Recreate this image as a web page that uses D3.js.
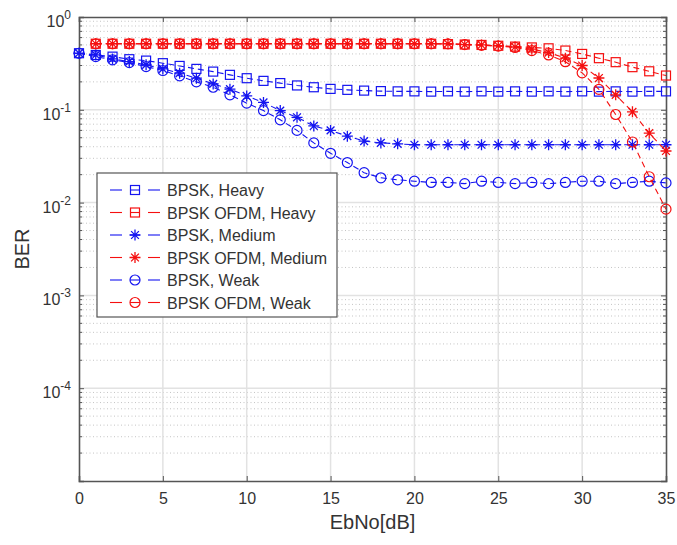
<!DOCTYPE html>
<html>
<head>
<meta charset="utf-8">
<script src="https://cdn.jsdelivr.net/npm/d3@7"></script>
<style>
  body { margin: 0; background: #fff; }
  text { font-family: "Liberation Sans", Arial, Helvetica, sans-serif; fill: #333; }
</style>
</head>
<body>
<div class="chart"></div>
<script>
// EbNo values (dB)
var ebnoBpsk = [0,1,2,3,4,5,6,7,8,9,10,11,12,13,14,15,16,17,18,19,20,21,22,23,24,25,26,27,28,29,30,31,32,33,34,35];
var ebnoOfdm = [1,2,3,4,5,6,7,8,9,10,11,12,13,14,15,16,17,18,19,20,21,22,23,24,25,26,27,28,29,30,31,32,33,34,35];

// BER
var bpskHeavy = [0.407,0.39,0.374,0.351,0.339,0.318,0.297,0.276,0.258,0.238,0.219,0.205,0.194,0.183,0.175,0.168,
  0.164,0.161,0.159,0.158,0.158,0.157,0.158,0.157,0.158,0.157,0.158,0.157,0.158,0.157,0.158,0.157,0.158,0.157,0.158,0.158];
var bpskMedium = [0.407,0.39,0.353,0.331,0.305,0.276,0.248,0.219,0.19,0.167,0.141,0.12,0.098,0.083,0.067,0.06,
  0.052,0.046,0.044,0.043,0.042,0.042,0.042,0.042,0.042,0.042,0.042,0.042,0.042,0.042,0.042,0.042,0.042,0.042,0.042,0.042];
var bpskWeak = [0.407,0.374,0.345,0.323,0.292,0.265,0.232,0.2,0.175,0.145,0.118,0.098,0.078,0.06,0.044,0.034,
  0.027,0.021,0.0185,0.0176,0.017,0.0165,0.0165,0.016,0.017,0.0165,0.016,0.0165,0.016,0.0165,0.017,0.017,0.016,0.0165,0.017,0.0163];
var ofdmHeavy = [0.515,0.515,0.515,0.515,0.515,0.515,0.515,0.515,0.515,0.515,0.515,0.515,0.515,0.515,0.515,0.515,
  0.515,0.515,0.515,0.515,0.515,0.51,0.505,0.5,0.49,0.48,0.47,0.46,0.435,0.4,0.36,0.326,0.288,0.26,0.234];
var ofdmMedium = [0.515,0.515,0.515,0.515,0.515,0.515,0.515,0.515,0.515,0.515,0.515,0.515,0.515,0.515,0.515,0.515,
  0.515,0.515,0.515,0.515,0.515,0.515,0.505,0.5,0.49,0.475,0.45,0.414,0.36,0.3,0.22,0.145,0.095,0.056,0.036];
var ofdmWeak = [0.515,0.515,0.515,0.515,0.515,0.515,0.515,0.515,0.515,0.515,0.515,0.515,0.515,0.515,0.515,0.515,
  0.515,0.515,0.515,0.515,0.515,0.515,0.505,0.495,0.485,0.47,0.434,0.39,0.33,0.25,0.166,0.089,0.045,0.019,0.0085];

var seriesNames = ["BPSK, Heavy", "BPSK OFDM, Heavy", "BPSK, Medium", "BPSK OFDM, Medium", "BPSK, Weak", "BPSK OFDM, Weak"];
var xTicks = [0,5,10,15,20,25,30,35];
var yTicks = [1,0.1,0.01,0.001,0.0001];
var yTickExp = ["0","-1","-2","-3","-4"];

var blue = "#1414f0";
var red = "#f51010";

var series = [
  { name: seriesNames[0], x: ebnoBpsk, y: bpskHeavy,  color: blue, marker: "square" },
  { name: seriesNames[1], x: ebnoOfdm, y: ofdmHeavy,  color: red,  marker: "square" },
  { name: seriesNames[2], x: ebnoBpsk, y: bpskMedium, color: blue, marker: "star" },
  { name: seriesNames[3], x: ebnoOfdm, y: ofdmMedium, color: red,  marker: "star" },
  { name: seriesNames[4], x: ebnoBpsk, y: bpskWeak,   color: blue, marker: "circle" },
  { name: seriesNames[5], x: ebnoOfdm, y: ofdmWeak,   color: red,  marker: "circle" }
];

var svgWidth = 677;
var svgHeight = 545;
var margin = { top: 17, right: 11, bottom: 64, left: 79 };
var width = svgWidth - margin.left - margin.right;
var height = svgHeight - margin.top - margin.bottom;

var svg = d3.select(".chart").append("svg")
  .attr("width", svgWidth)
  .attr("height", svgHeight);

var chart = svg.append("g")
  .attr("transform", `translate(${margin.left}, ${margin.top})`);

var xScale = d3.scaleLinear().domain([0, 35]).range([0, width]);
var yScale = d3.scaleLog().domain([1e-5, 1]).range([height, 0]);

// minor log values 2..9 x 10^k
var minorVals = [];
[-5,-4,-3,-2,-1].forEach(function(k) {
  for (var m = 2; m <= 9; m++) minorVals.push(m * Math.pow(10, k));
});

// grid
chart.append("g").selectAll("line").data(minorVals).enter().append("line")
  .attr("x1", 0).attr("x2", width)
  .attr("y1", function(d) { return yScale(d); }).attr("y2", function(d) { return yScale(d); })
  .attr("stroke", "#c4c4c4").attr("stroke-width", 1).attr("stroke-dasharray", "1,2.5");

chart.append("g").selectAll("line").data(xTicks.slice(1, -1)).enter().append("line")
  .attr("x1", function(d) { return xScale(d); }).attr("x2", function(d) { return xScale(d); })
  .attr("y1", 0).attr("y2", height)
  .attr("stroke", "#e2e2e2").attr("stroke-width", 1.5);

chart.append("g").selectAll("line").data(yTicks.slice(1)).enter().append("line")
  .attr("x1", 0).attr("x2", width)
  .attr("y1", function(d) { return yScale(d); }).attr("y2", function(d) { return yScale(d); })
  .attr("stroke", "#e2e2e2").attr("stroke-width", 1.5);

// axes (ticks inside, box)
var axisColor = "#555";
var bottomAxis = d3.axisBottom(xScale).tickValues(xTicks).tickSize(-5).tickPadding(12).tickFormat(d3.format("d"));
var topAxis = d3.axisTop(xScale).tickValues(xTicks).tickSize(-5).tickFormat("");
var leftAxis = d3.axisLeft(yScale).tickValues(yTicks).tickSize(-5).tickFormat("");
var rightAxis = d3.axisRight(yScale).tickValues(yTicks).tickSize(-5).tickFormat("");

var gx = chart.append("g").attr("transform", `translate(0, ${height})`).call(bottomAxis);
chart.append("g").call(topAxis);
chart.append("g").call(leftAxis);
chart.append("g").attr("transform", `translate(${width}, 0)`).call(rightAxis);

chart.selectAll(".domain").attr("stroke", axisColor).attr("stroke-width", 1.6);
chart.selectAll(".tick line").attr("stroke", axisColor).attr("stroke-width", 1);
gx.selectAll("text").style("font-size", "16px").attr("fill", "#333")
  .style("font-family", "'Liberation Sans', Arial, sans-serif");

// minor ticks on left and right
[0, width].forEach(function(xPos) {
  chart.append("g").selectAll("line").data(minorVals).enter().append("line")
    .attr("x1", xPos).attr("x2", xPos === 0 ? 3 : width - 3)
    .attr("y1", function(d) { return yScale(d); }).attr("y2", function(d) { return yScale(d); })
    .attr("stroke", axisColor).attr("stroke-width", 1);
});

// y tick labels 10^k
yTicks.forEach(function(v, i) {
  var t = chart.append("text")
    .attr("x", -8)
    .attr("y", yScale(v) + 10)
    .attr("text-anchor", "end")
    .style("font-size", "16px");
  t.append("tspan").text("10");
  t.append("tspan").attr("dy", -8).style("font-size", "12px").text(yTickExp[i]);
});

// axis labels
chart.append("text")
  .attr("x", width / 2).attr("y", height + 48)
  .attr("text-anchor", "middle").style("font-size", "20px")
  .text("EbNo[dB]");

chart.append("text")
  .attr("transform", "rotate(-90)")
  .attr("x", -height / 2).attr("y", -50)
  .attr("text-anchor", "middle").style("font-size", "20px")
  .text("BER");

// marker drawing
function drawMarker(g, type, color) {
  if (type === "square") {
    g.append("rect").attr("x", -4.5).attr("y", -4.5).attr("width", 9).attr("height", 9)
      .attr("fill", "none").attr("stroke", color).attr("stroke-width", 1.2);
  } else if (type === "circle") {
    g.append("circle").attr("r", 5)
      .attr("fill", "none").attr("stroke", color).attr("stroke-width", 1.2);
  } else {
    g.append("path")
      .attr("d", "M-5.5,0L5.5,0M0,-5.5L0,5.5M-3.9,-3.9L3.9,3.9M-3.9,3.9L3.9,-3.9")
      .attr("fill", "none").attr("stroke", color).attr("stroke-width", 1.3);
  }
}

var line = d3.line()
  .x(function(d) { return xScale(d[0]); })
  .y(function(d) { return yScale(d[1]); });

series.forEach(function(s) {
  var pts = s.x.map(function(xv, i) { return [xv, s.y[i]]; });
  chart.append("path")
    .datum(pts)
    .attr("d", line)
    .attr("fill", "none")
    .attr("stroke", s.color)
    .attr("stroke-width", 1.1)
    .attr("stroke-dasharray", "6,4");
  chart.append("g").selectAll("g").data(pts).enter().append("g")
    .attr("transform", function(d) { return `translate(${xScale(d[0])}, ${yScale(d[1])})`; })
    .each(function() { drawMarker(d3.select(this), s.marker, s.color); });
});

// legend
var legend = svg.append("g").attr("transform", "translate(97, 173)");
legend.append("rect")
  .attr("x", 0).attr("y", 0).attr("width", 240).attr("height", 144)
  .attr("fill", "#fff").attr("stroke", "#555").attr("stroke-width", 1.2);

series.forEach(function(s, i) {
  var row = legend.append("g").attr("transform", `translate(0, ${17 + i * 22.5})`);
  row.append("line").attr("x1", 13).attr("x2", 25).attr("y1", 0).attr("y2", 0)
    .attr("stroke", s.color).attr("stroke-width", 1.1);
  row.append("line").attr("x1", 51).attr("x2", 63).attr("y1", 0).attr("y2", 0)
    .attr("stroke", s.color).attr("stroke-width", 1.1);
  row.append("line").attr("x1", 33).attr("x2", 43).attr("y1", 0).attr("y2", 0)
    .attr("stroke", s.color).attr("stroke-width", 1.1);
  var m = row.append("g").attr("transform", "translate(38, 0)");
  drawMarker(m, s.marker, s.color);
  row.append("text").attr("x", 70).attr("y", 6)
    .style("font-size", "16px").text(s.name);
});
</script>
</body>
</html>
